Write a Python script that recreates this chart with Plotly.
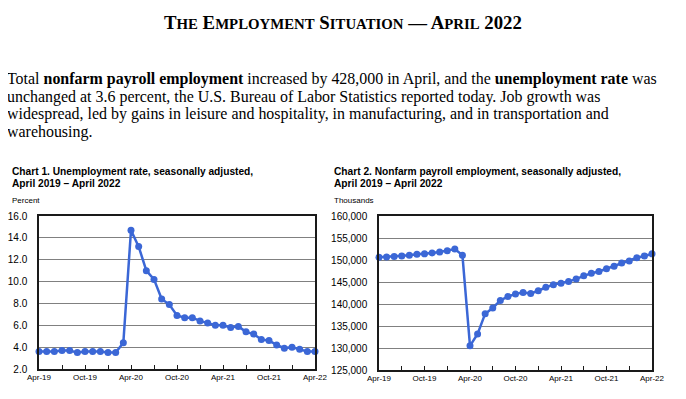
import pandas as pd
import plotly.graph_objects as go

months = [d.strftime("%b-%y") for d in pd.date_range("2019-04-01", "2022-04-01", freq="MS")]

unemployment_rate = [3.6, 3.6, 3.6, 3.7, 3.7, 3.5, 3.6, 3.6, 3.6, 3.5, 3.5, 4.4,
                     14.7, 13.2, 11.0, 10.2, 8.4, 7.9, 6.9, 6.7, 6.7, 6.4, 6.2, 6.0,
                     6.0, 5.8, 5.9, 5.4, 5.2, 4.7, 4.6, 4.2, 3.9, 4.0, 3.8, 3.6, 3.6]

payroll = [150600, 150700, 150800, 150900, 151100, 151300, 151400, 151600, 151800, 152100, 152500, 151100,
           130500, 133200, 137800, 139100, 140800, 141700, 142300, 142600, 142400, 143000, 143800, 144400,
           144700, 145100, 145700, 146400, 147000, 147400, 148000, 148600, 149300, 149800, 150500, 150900, 151400]

tick_every3 = months[::3]
tick_text = [m if i % 2 == 0 else "" for i, m in enumerate(tick_every3)]

W, H = 686, 399
OFF = 8  # page body margin offset
BLUE = "#3B67D6"

def px_x(v):
    return (v - OFF) / W

def px_y(v):
    return 1 - (v - OFF) / H

fig = go.Figure()
fig.add_trace(go.Scatter(x=months, y=unemployment_rate, mode="lines+markers",
                         line=dict(color=BLUE, width=2.5), marker=dict(size=7, color=BLUE),
                         xaxis="x", yaxis="y", cliponaxis=False, showlegend=False))
fig.add_trace(go.Scatter(x=months, y=payroll, mode="lines+markers",
                         line=dict(color=BLUE, width=2.5), marker=dict(size=7, color=BLUE),
                         xaxis="x2", yaxis="y2", cliponaxis=False, showlegend=False))

axis_common = dict(showline=True, mirror=True, linecolor="#1a1a1a", linewidth=1.5,
                   zeroline=False, automargin=False)
xcommon = dict(type="category", range=[0, len(months) - 1], tickmode="array",
               tickvals=tick_every3, ticktext=tick_text, ticks="inside", ticklen=4,
               tickcolor="#1a1a1a", tickwidth=1, showgrid=False,
               tickfont=dict(family="Liberation Sans, Arial", size=8, color="black"), **axis_common)
ycommon = dict(showgrid=True, gridcolor="#808080", gridwidth=1.4, ticks="",
               tickfont=dict(family="Liberation Sans, Arial", size=10, color="black"), **axis_common)

fig.update_layout(
    width=W, height=H, margin=dict(l=0, r=0, t=0, b=0, autoexpand=False),
    paper_bgcolor="white", plot_bgcolor="white",
    xaxis=dict(domain=[px_x(39), px_x(315)], anchor="y", **xcommon),
    yaxis=dict(domain=[px_y(369), px_y(216)], anchor="x", range=[2, 16], dtick=2,
               tickformat=".1f", ticklabelstandoff=8, **ycommon),
    xaxis2=dict(domain=[px_x(379), px_x(652)], anchor="y2", **xcommon),
    yaxis2=dict(domain=[px_y(370), px_y(216)], anchor="x2", range=[125000, 160000], dtick=5000,
                tickformat=",", ticklabelstandoff=8, **ycommon),
)

sc = 'style="font-size:14.8px"'
title = (f'T<span {sc}>HE</span> E<span {sc}>MPLOYMENT</span> S<span {sc}>ITUATION</span> '
         f'— A<span {sc}>PRIL</span> 2022')
annotations = [
    dict(text=f"<b>{title}</b>", x=px_x(343), y=px_y(22), xanchor="center", yanchor="middle",
         font=dict(family="Liberation Serif", size=18.8, color="black")),
]

para = [
    "Total <b>nonfarm payroll employment</b> increased by 428,000 in April, and the <b>unemployment rate</b> was",
    "unchanged at 3.6 percent, the U.S. Bureau of Labor Statistics reported today. Job growth was",
    "widespread, led by gains in leisure and hospitality, in manufacturing, and in transportation and",
    "warehousing.",
]
for i, line in enumerate(para):
    annotations.append(dict(text=line, x=px_x(5), y=px_y(79 + i * 17.7), xanchor="left", yanchor="middle",
                            font=dict(family="Liberation Serif", size=15.95, color="black")))

chart_titles = [
    (10, "Chart 1. Unemployment rate, seasonally adjusted,", "Percent"),
    (332, "Chart 2. Nonfarm payroll employment, seasonally adjusted,", "Thousands"),
]
for x0, t1, unit in chart_titles:
    annotations.append(dict(text=f"<b>{t1}</b>", x=px_x(x0), y=px_y(171), xanchor="left", yanchor="middle",
                            font=dict(family="Liberation Sans, Arial", size=10.2, color="black")))
    annotations.append(dict(text="<b>April 2019 – April 2022</b>", x=px_x(x0), y=px_y(183), xanchor="left",
                            yanchor="middle", font=dict(family="Liberation Sans, Arial", size=10.2, color="black")))
    annotations.append(dict(text=unit, x=px_x(x0), y=px_y(201), xanchor="left", yanchor="middle",
                            font=dict(family="Liberation Sans, Arial", size=8, color="black")))

for a in annotations:
    a.update(xref="paper", yref="paper", showarrow=False)
fig.update_layout(annotations=annotations)

fig.write_html("out.html")
